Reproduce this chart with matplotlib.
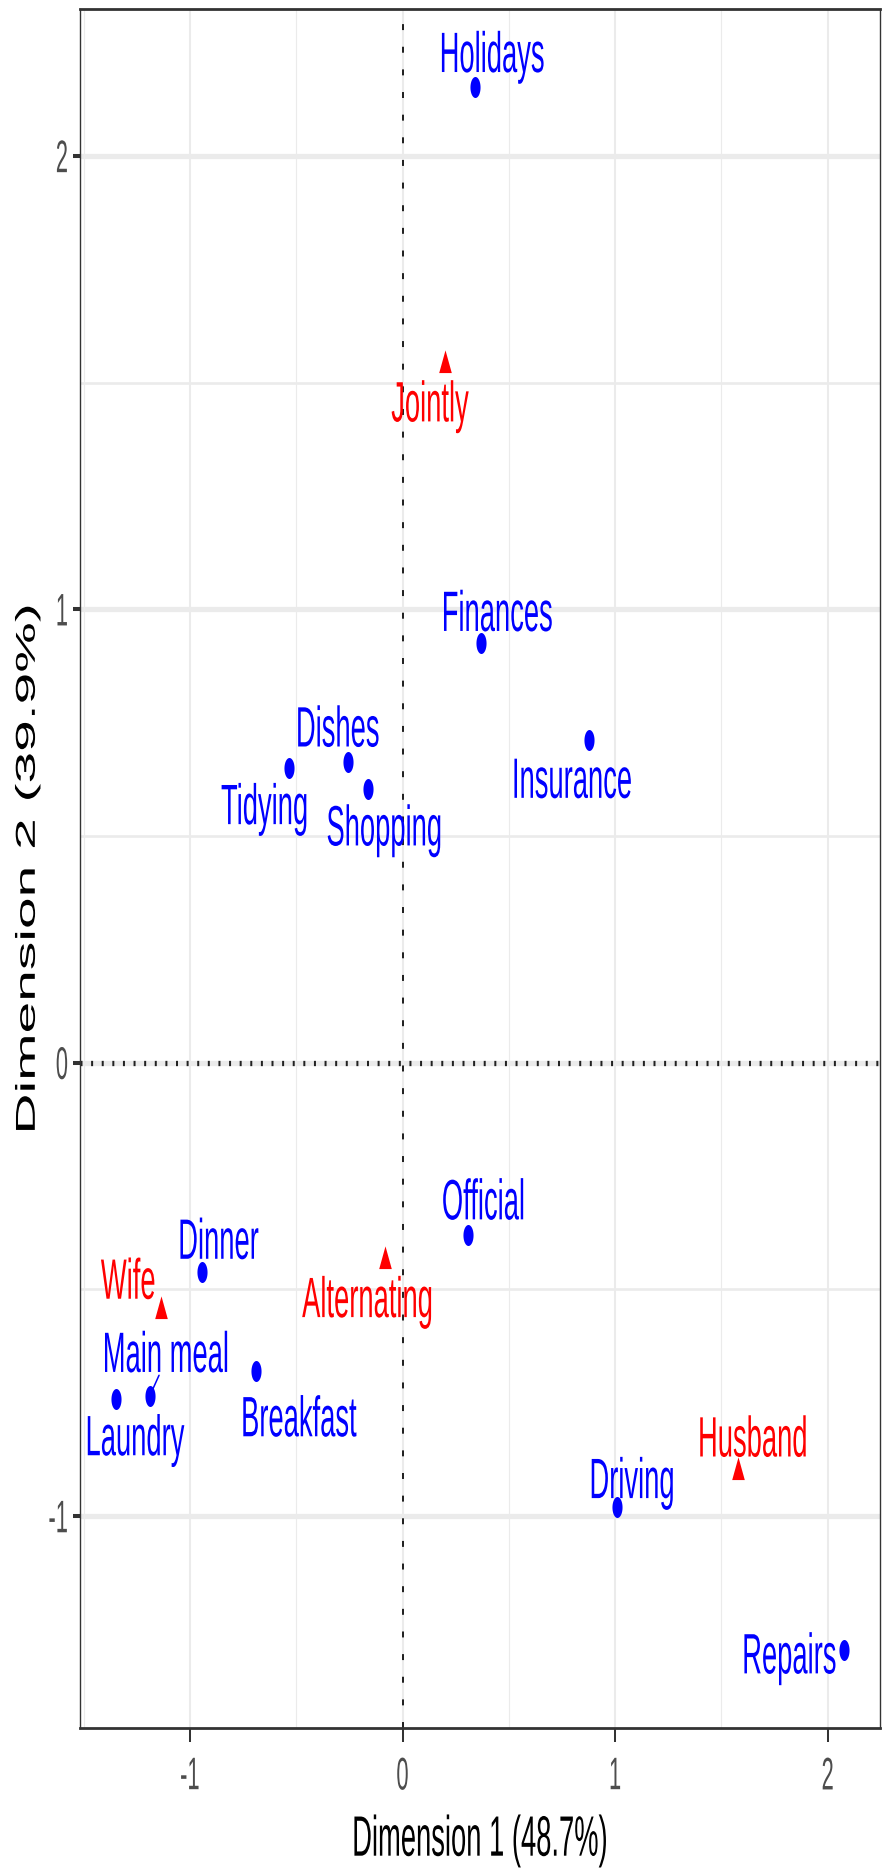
import numpy as np
import matplotlib
matplotlib.use("Agg")
import matplotlib.pyplot as plt
from matplotlib.path import Path
from matplotlib.markers import MarkerStyle
from matplotlib.patheffects import AbstractPathEffect
from matplotlib.transforms import Affine2D
from matplotlib.ticker import FixedLocator

# ---- data: correspondence analysis of household tasks ----
task_names = ["Laundry", "Main meal", "Dinner", "Breakfast", "Tidying", "Dishes",
              "Shopping", "Official", "Driving", "Finances", "Insurance",
              "Repairs", "Holidays"]
task_dim1 = [-1.346, -1.189, -0.941, -0.691, -0.535, -0.257, -0.160,
             0.308, 1.007, 0.368, 0.878, 2.075, 0.342]
task_dim2 = [-0.742, -0.735, -0.462, -0.679, 0.651, 0.663, 0.604,
             -0.381, -0.979, 0.926, 0.711, -1.295, 2.151]

who_names = ["Wife", "Alternating", "Husband", "Jointly"]
who_dim1 = [-1.137, -0.084, 1.576, 0.202]
who_dim2 = [-0.547, -0.438, -0.902, 1.539]

x_ticks = [-1, 0, 1, 2]
y_ticks = [-1, 0, 1, 2]
x_tick_labels = ["-1", "0", "1", "2"]
y_tick_labels = ["-1", "0", "1", "2"]
x_title = "Dimension 1 (48.7%)"
y_title = "Dimension 2 (39.9%)"

# ---- style ----
STRETCH = 2.08          # vertical elongation of glyphs and markers
PX = 0.72               # points per pixel at dpi 100
ROW_COLOR = "#0000FF"
COL_COLOR = "#FF0000"
GRID = "#EBEBEB"
DARK = "#333333"
LABEL_PT = 19.7
TICK_PT = 15.8

# label placement relative to each point, in pixels (right, down) of the baseline centre
label_offsets = {
    "Holidays": (17, -15.4), "Jointly": (-15.5, 56.5), "Finances": (16.5, -11.9),
    "Insurance": (-17.3, 57.5), "Dishes": (-10.1, -15.6), "Tidying": (-24.1, 56.6),
    "Shopping": (15.7, 56.6), "Official": (15.5, -16.1), "Alternating": (-17.1, 55.8),
    "Dinner": (16, -13.4), "Wife": (-32.5, -12), "Main meal": (16.2, -24),
    "Laundry": (18.6, 56.1), "Breakfast": (43.4, 65.7), "Husband": (15.2, -15.2),
    "Driving": (15.5, -8.5), "Repairs": (-54.2, 23.5),
}

plt.rcParams["font.family"] = ["Liberation Sans", "DejaVu Sans"]
plt.rcParams["lines.scale_dashes"] = False


class VerticalStretch(AbstractPathEffect):
    """Draw text paths elongated vertically about an anchor line."""

    def __init__(self, factor, anchor="baseline"):
        super().__init__()
        self.factor = factor
        self.anchor = anchor

    def draw_path(self, renderer, gc, tpath, affine, rgbFace=None):
        if self.anchor == "baseline":
            y0 = affine.get_matrix()[1, 2]
        else:
            ext = tpath.get_extents(affine)
            y0 = {"top": ext.y1, "bottom": ext.y0,
                  "center": 0.5 * (ext.y0 + ext.y1)}[self.anchor]
        stretch = Affine2D().translate(0, -y0).scale(1, self.factor).translate(0, y0)
        renderer.draw_path(gc, tpath, affine + stretch, rgbFace)


# elongated marker shapes
t = np.linspace(0, 2 * np.pi, 73)
dot_marker = MarkerStyle(Path(np.column_stack([0.5 * np.cos(t),
                                               0.5 * STRETCH * np.sin(t)]), closed=True))
tri_verts = np.array([[0.0, 1.555 * STRETCH], [1.347, -0.778 * STRETCH],
                      [-1.347, -0.778 * STRETCH], [0.0, 1.555 * STRETCH]])
tri_marker = MarkerStyle(Path(tri_verts, closed=True))
tri_scale = 2.333 * STRETCH * 0.5 / (1.555 * STRETCH)   # marker height as fraction of size

fig = plt.figure(figsize=(8.85, 18.70), dpi=100)
ax = fig.add_axes([80 / 885, 142 / 1870, 800 / 885, 1718.7 / 1870])

all_x = np.array(task_dim1 + who_dim1)
all_y = np.array(task_dim2 + who_dim2)
xr = all_x.max() - all_x.min()
yr = all_y.max() - all_y.min()
ax.set_xlim(all_x.min() - 0.05 * xr, all_x.max() + 0.05 * xr)
ax.set_ylim(all_y.min() - 0.05 * yr, all_y.max() + 0.05 * yr)

# grid
ax.set_axisbelow(True)
ax.set_xticks(x_ticks, labels=x_tick_labels)
ax.set_yticks(y_ticks, labels=y_tick_labels)
xlo, xhi = ax.get_xlim()
ylo, yhi = ax.get_ylim()
x_minor = [v for v in [x_ticks[0] - 0.5] + [a + 0.5 for a in x_ticks] if xlo <= v <= xhi]
y_minor = [v for v in [y_ticks[0] - 0.5] + [a + 0.5 for a in y_ticks] if ylo <= v <= yhi]
ax.xaxis.set_minor_locator(FixedLocator(x_minor))
ax.yaxis.set_minor_locator(FixedLocator(y_minor))
ax.grid(which="major", axis="y", color=GRID, lw=3.8)
ax.grid(which="minor", axis="y", color=GRID, lw=1.9)
ax.grid(which="major", axis="x", color=GRID, lw=1.5)
ax.grid(which="minor", axis="x", color=GRID, lw=0.8)

# reference lines through the origin
ax.axhline(0, color="#222222", lw=3.8, linestyle=(0, (1.44, 6.2)), zorder=1.5)
ax.axvline(0, color="#222222", lw=1.44, linestyle=(0, (4.3, 12.0)), zorder=1.5)

# frame and ticks
for side in ("top", "bottom"):
    ax.spines[side].set_linewidth(2.0)
    ax.spines[side].set_color(DARK)
for side in ("left", "right"):
    ax.spines[side].set_linewidth(1.0)
    ax.spines[side].set_color(DARK)
ax.tick_params(axis="x", which="major", direction="out", length=10, width=1.45,
               color=DARK, pad=10.8, labelsize=TICK_PT, labelcolor="#4D4D4D")
ax.tick_params(axis="y", which="major", direction="out", length=5, width=2.9,
               color=DARK, pad=3.6, labelsize=TICK_PT, labelcolor="#4D4D4D")
ax.tick_params(which="minor", length=0)
for lab in ax.get_xticklabels():
    lab.set_path_effects([VerticalStretch(STRETCH, "top")])
for lab in ax.get_yticklabels():
    lab.set_path_effects([VerticalStretch(STRETCH, "center")])

# points
ax.plot(task_dim1, task_dim2, linestyle="none", marker=dot_marker,
        ms=21 * PX, color=ROW_COLOR, mew=0, zorder=3)
ax.plot(who_dim1, who_dim2, linestyle="none", marker=tri_marker,
        ms=22.7 * PX / tri_scale, color=COL_COLOR, mew=0, zorder=3)

# labels
def put_label(name, x, y, color):
    dx, dy = label_offsets[name]
    ax.annotate(name, xy=(x, y), xytext=(dx * PX, -dy * PX), textcoords="offset points",
                ha="center", va="baseline", fontsize=LABEL_PT, color=color,
                path_effects=[VerticalStretch(STRETCH, "baseline")],
                annotation_clip=False, zorder=4)

for n, x, y in zip(task_names, task_dim1, task_dim2):
    put_label(n, x, y, ROW_COLOR)
for n, x, y in zip(who_names, who_dim1, who_dim2):
    put_label(n, x, y, COL_COLOR)

# connector from "Main meal" to its point
mi = task_names.index("Main meal")
ax.annotate("", xy=(task_dim1[mi], task_dim2[mi]), xytext=(9.3 * PX, 20.7 * PX),
            textcoords="offset points",
            arrowprops=dict(arrowstyle="-", color=ROW_COLOR, lw=1.1,
                            shrinkA=0, shrinkB=6.5 * PX), zorder=4)

# axis titles
ax.set_xlabel(x_title, fontsize=LABEL_PT, color="black",
              path_effects=[VerticalStretch(STRETCH, "top")])
ax.xaxis.set_label_coords(0.5, -0.0502)
ax.set_ylabel(y_title, fontsize=LABEL_PT, color="black",
              path_effects=[VerticalStretch(STRETCH, "center")])
ax.yaxis.set_label_coords(-0.049, 0.5)

fig.savefig("out.png", dpi=100)
